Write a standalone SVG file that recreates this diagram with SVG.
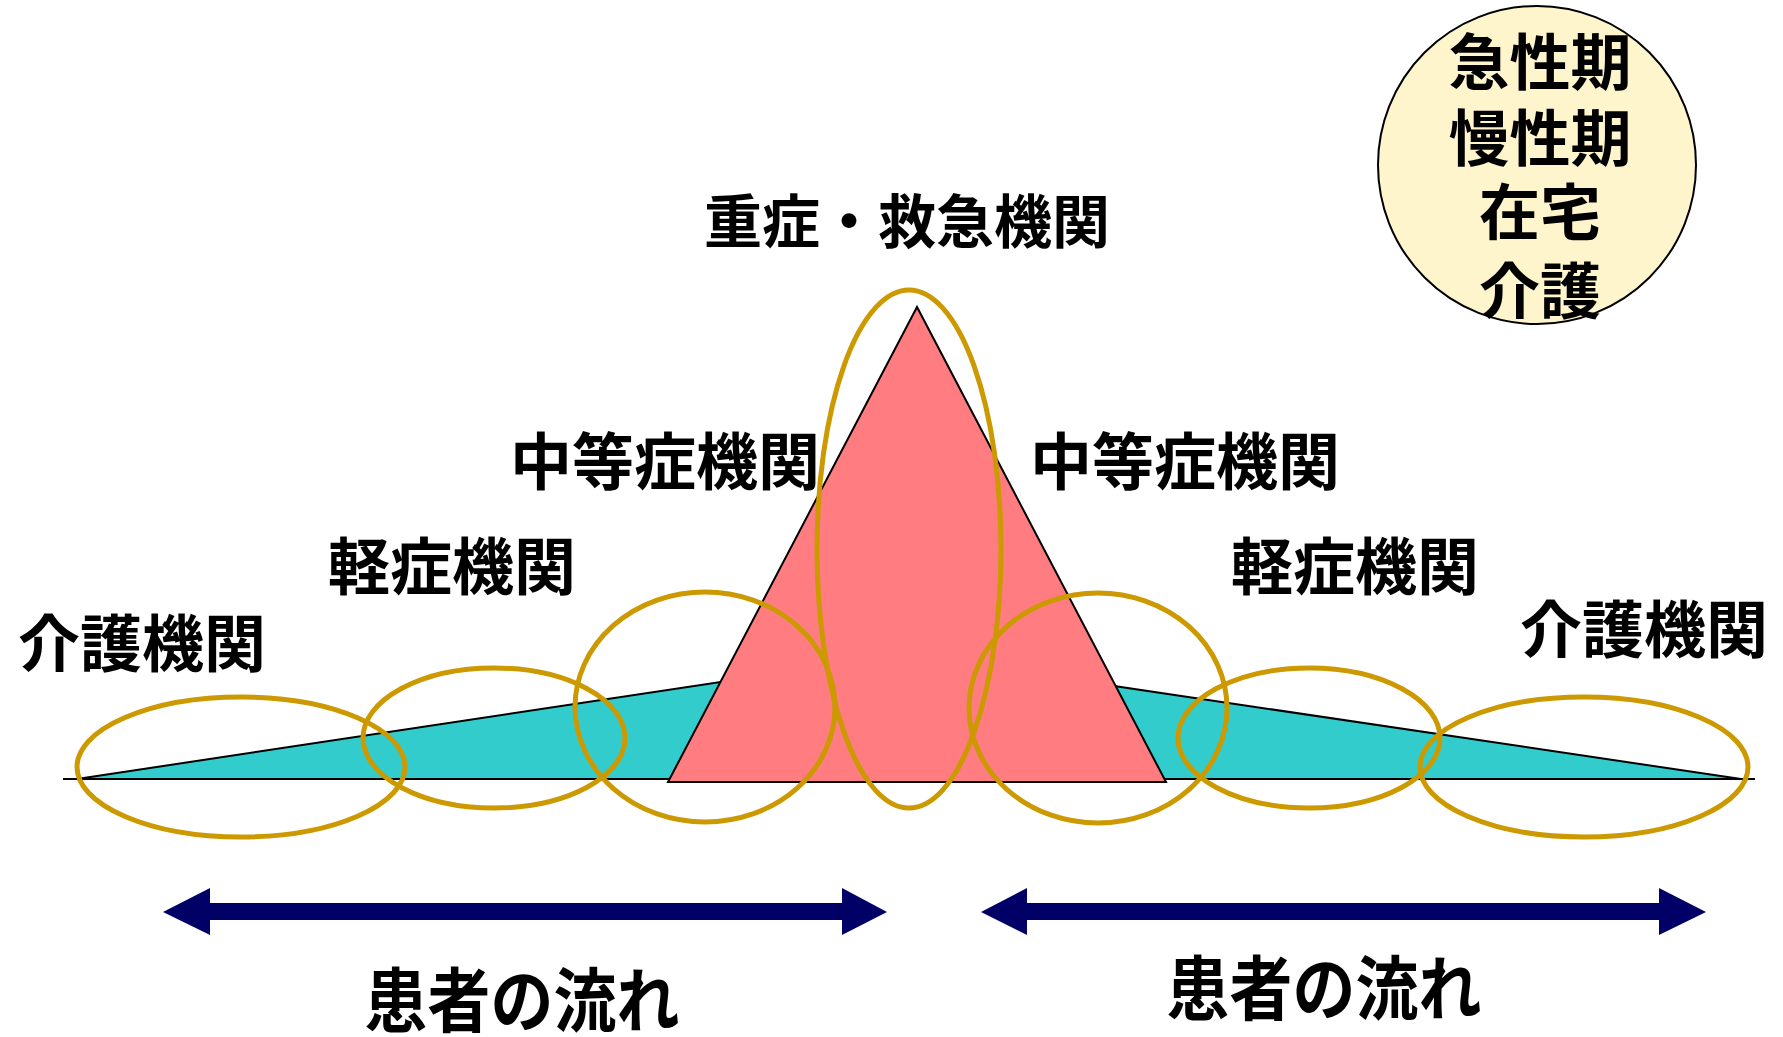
<svg xmlns="http://www.w3.org/2000/svg" width="1783" height="1037" viewBox="0 0 1783 1037">
<style>
.lbl{font-family:"Noto Sans CJK JP","Noto Sans CJK SC",sans-serif;font-weight:bold;fill:#000;text-anchor:middle}
.ring{fill:none;stroke:#CC9900;stroke-width:5}
.tri{stroke:#000;stroke-width:2;stroke-linejoin:miter}
.arrow{fill:#000066}
</style>
<rect width="1783" height="1037" fill="#fff"/>
<g id="shapes">
<line x1="63" y1="779" x2="1755" y2="779" stroke="#000" stroke-width="2"/>
<polygon id="cyan-left" class="tri" fill="#33CCCC" points="77,779 800,670 800,779"/>
<polygon id="cyan-right" class="tri" fill="#33CCCC" points="1741,779 1040,675 1040,779"/>
<polygon id="pink" class="tri" fill="#FF7C80" points="917,307 668,782 1166,782"/>
</g>
<g id="rings">
<ellipse class="ring" cx="241" cy="767" rx="164" ry="70"/>
<ellipse class="ring" cx="494" cy="738" rx="131" ry="70"/>
<ellipse class="ring" cx="705" cy="707" rx="130" ry="115"/>
<ellipse class="ring" cx="909" cy="549" rx="92" ry="259"/>
<ellipse class="ring" cx="1098" cy="708" rx="129" ry="115"/>
<ellipse class="ring" cx="1309" cy="738" rx="131" ry="70"/>
<ellipse class="ring" cx="1584" cy="767" rx="164" ry="70"/>
</g>
<g id="phase-circle">
<circle cx="1537" cy="165" r="159" fill="#FFF5CC" stroke="#000" stroke-width="2"/>
<text class="lbl" font-size="61"><tspan x="1540" y="85">急性期</tspan><tspan x="1540" y="161">慢性期</tspan><tspan x="1540" y="235">在宅</tspan><tspan x="1540" y="314">介護</tspan></text>
</g>
<g id="labels">
<text class="lbl" x="907" y="243" font-size="58">重症・救急機関</text>
<text class="lbl" x="665" y="485" font-size="62">中等症機関</text>
<text class="lbl" x="1185" y="485" font-size="62">中等症機関</text>
<text class="lbl" x="452" y="590" font-size="62">軽症機関</text>
<text class="lbl" x="1355" y="590" font-size="62">軽症機関</text>
<text class="lbl" x="142" y="667" font-size="62">介護機関</text>
<text class="lbl" x="1644" y="653" font-size="62">介護機関</text>
</g>
<g id="connectors">
<polygon class="arrow" points="163,912 210,888 210,903 842,903 842,888 887,912 842,935 842,920 210,920 210,935"/>
<polygon class="arrow" points="981,912 1027,888 1027,903 1659,903 1659,888 1706,912 1659,935 1659,920 1027,920 1027,935"/>
</g>
<g id="flow-labels">
<text class="lbl" font-size="63" transform="translate(522,1027) scale(1,1.12)">患者の流れ</text>
<text class="lbl" font-size="63" transform="translate(1324,1015) scale(1,1.12)">患者の流れ</text>
</g>
</svg>
